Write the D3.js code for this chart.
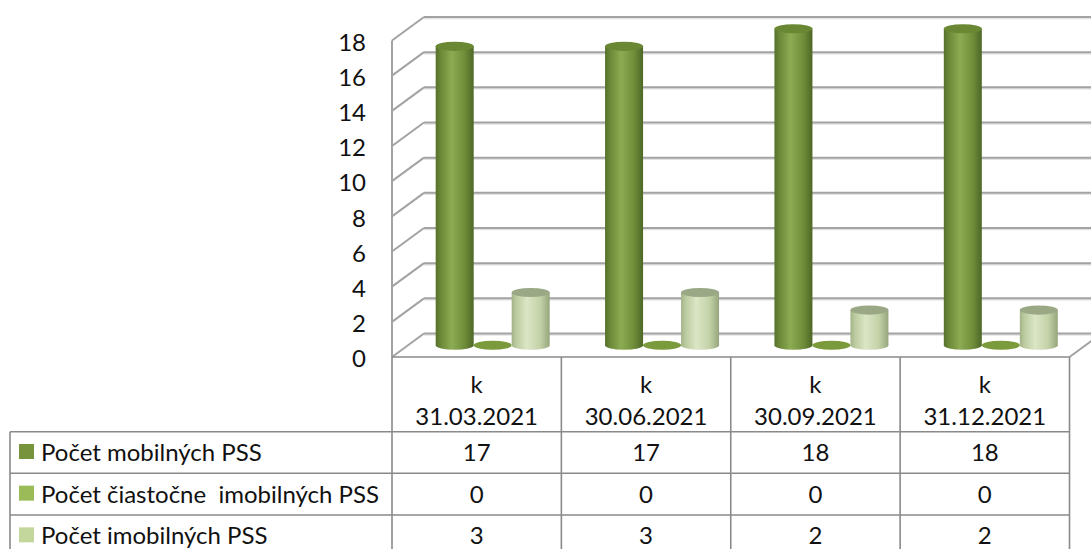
<!DOCTYPE html>
<html>
<head>
<meta charset="utf-8">
<script src="https://cdn.jsdelivr.net/npm/d3@7/dist/d3.min.js"></script>
<style>
  body { margin: 0; background: #fff; }
  svg text { font-family: Lato, "Noto Sans", sans-serif; fill: #111; }
</style>
</head>
<body>
<div id="chart"></div>
<script>
// data
const categories = ["k 31.03.2021", "k 30.06.2021", "k 30.09.2021", "k 31.12.2021"];
const seriesNames = ["Počet mobilných PSS", "Počet čiastočne  imobilných PSS", "Počet imobilných PSS"];
const mobile = [17, 17, 18, 18];
const partial = [0, 0, 0, 0];
const immobile = [3, 3, 2, 2];
const yTicks = [0, 2, 4, 6, 8, 10, 12, 14, 16, 18];
const seriesColors = ["#77933C", "#9BBB59", "#C3D69B"];

const W = 1091, H = 549;
const fontSize = 24;
const depth = { dx: 32, dy: -23.5 };

function drawChart(containerId = "chart") {
    const seriesValues = [mobile, partial, immobile];
    const svg = d3.select(`#${containerId}`).append("svg")
        .attr("width", W)
        .attr("height", H);

    const x = d3.scaleBand().domain(categories).range([392, 1069.5]).paddingInner(0);
    const y = d3.scaleLinear().domain([0, 18]).range([357, 40.5]);
    const yMid = v => y(v) + depth.dy / 2;
    const yBack = v => y(v) + depth.dy;

    // gradients for the cylinders
    const defs = svg.append("defs");
    const grads = [
        [["0%", "#55702b"], ["12%", "#6a8736"], ["42%", "#8cab52"], ["75%", "#718f3a"], ["100%", "#4e6727"]],
        [["0%", "#6f8c36"], ["50%", "#8aa94c"], ["100%", "#6f8c36"]],
        [["0%", "#a3b387"], ["12%", "#bccba0"], ["40%", "#dbe6c5"], ["75%", "#c3d1a7"], ["100%", "#96a57c"]]
    ];
    grads.forEach((stops, i) => {
        const g = defs.append("linearGradient").attr("id", "cyl" + i)
            .attr("x1", "0%").attr("x2", "100%").attr("y1", "0%").attr("y2", "0%");
        stops.forEach(s => g.append("stop").attr("offset", s[0]).attr("stop-color", s[1]));
    });
    const topColors = ["#6a8834", "#7a9a3c", "#9ba886"];

    // walls and grid
    const grid = svg.append("g");
    const backRight = 1069.5 + depth.dx;
    yTicks.forEach(t => {
        grid.append("line")
            .attr("x1", 392 + depth.dx).attr("x2", backRight)
            .attr("y1", yBack(t) + 1.5).attr("y2", yBack(t) + 1.5)
            .attr("stroke", "#e2e2e2").attr("stroke-width", 1.5);
        grid.append("line")
            .attr("x1", 392 + depth.dx).attr("x2", backRight)
            .attr("y1", yBack(t)).attr("y2", yBack(t))
            .attr("stroke", "#a3a3a3").attr("stroke-width", 2);
        grid.append("line")
            .attr("x1", 392).attr("x2", 392 + depth.dx)
            .attr("y1", y(t)).attr("y2", yBack(t))
            .attr("stroke", "#a3a3a3").attr("stroke-width", 2);
    });
    grid.append("line")
        .attr("x1", 392).attr("x2", 392)
        .attr("y1", y(18)).attr("y2", y(0))
        .attr("stroke", "#a3a3a3").attr("stroke-width", 2);
    grid.append("line")
        .attr("x1", 1069.5).attr("x2", backRight)
        .attr("y1", y(0)).attr("y2", yBack(0))
        .attr("stroke", "#a3a3a3").attr("stroke-width", 2);

    // y axis labels
    const yAxis = d3.axisLeft(d3.scaleLinear().domain([0, 18]).range([357 + 2, 40.5 + 2]))
        .tickValues(yTicks).tickSize(0).tickPadding(26);
    svg.append("g").attr("transform", "translate(392,0)").call(yAxis)
        .call(g => g.select(".domain").remove())
        .selectAll("text")
        .attr("font-family", "Lato, 'Noto Sans', sans-serif")
        .attr("font-size", fontSize).attr("fill", "#111");

    // cylinders
    const bw = 38, ry = 4.6;
    const bars = svg.append("g");
    categories.forEach((c, ci) => {
        const cxMid = x(c) + x.bandwidth() / 2 + depth.dx / 2;
        const xs = d3.scaleBand().domain(seriesNames).range([cxMid - 1.5 * bw, cxMid + 1.5 * bw]);
        seriesNames.forEach((s, si) => {
            const v = seriesValues[si][ci];
            const cx = xs(s) + xs.bandwidth() / 2;
            const rx = bw / 2;
            const yb = yMid(0), yt = yMid(v);
            if (v > 0) {
                bars.append("path")
                    .attr("d", `M${cx - rx},${yt} L${cx - rx},${yb} A${rx},${ry} 0 0 0 ${cx + rx},${yb} L${cx + rx},${yt} Z`)
                    .attr("fill", `url(#cyl${si})`);
            }
            bars.append("ellipse")
                .attr("cx", cx).attr("cy", yt)
                .attr("rx", rx).attr("ry", ry)
                .attr("fill", topColors[si]);
        });
    });

    // data table
    const table = svg.append("g");
    const lineCol = "#8a8a8a";
    const rowY = [357, 431.7, 473.3, 515, 556.7];
    const hline = (x1, x2, yy) => table.append("line").attr("x1", x1).attr("x2", x2)
        .attr("y1", yy).attr("y2", yy).attr("stroke", lineCol).attr("stroke-width", 1.6);
    const vline = (xx, y1, y2) => table.append("line").attr("x1", xx).attr("x2", xx)
        .attr("y1", y1).attr("y2", y2).attr("stroke", lineCol).attr("stroke-width", 1.6);

    hline(392, 1069.5, rowY[0]);
    [1, 2, 3].forEach(r => hline(10, 1069.5, rowY[r]));
    vline(10, rowY[1], H);
    categories.forEach(c => vline(x(c), rowY[0], H));
    vline(1069.5, rowY[0], H);

    // header
    categories.forEach(c => {
        const cx = x(c) + x.bandwidth() / 2;
        const parts = [c.slice(0, c.indexOf(" ")), c.slice(c.indexOf(" ") + 1)];
        table.append("text").attr("x", cx).attr("y", 385).attr("dy", "0.35em")
            .attr("text-anchor", "middle").attr("font-size", fontSize).text(parts[0]);
        table.append("text").attr("x", cx).attr("y", 417).attr("dy", "0.35em")
            .attr("text-anchor", "middle").attr("font-size", fontSize).text(parts[1]);
    });

    // rows
    seriesNames.forEach((s, si) => {
        const cy = (rowY[si + 1] + rowY[si + 2]) / 2;
        table.append("rect").attr("x", 19).attr("y", cy - 8.5)
            .attr("width", 15).attr("height", 15).attr("fill", seriesColors[si]);
        table.append("text").attr("x", 41).attr("y", cy).attr("dy", "0.35em")
            .attr("font-size", fontSize).style("white-space", "pre").text(s);
        categories.forEach((c, ci) => {
            table.append("text").attr("x", x(c) + x.bandwidth() / 2).attr("y", cy).attr("dy", "0.35em")
                .attr("text-anchor", "middle").attr("font-size", fontSize)
                .text(seriesValues[si][ci]);
        });
    });
}

document.addEventListener('DOMContentLoaded', () => {
    drawChart();
});
</script>
</body>
</html>
